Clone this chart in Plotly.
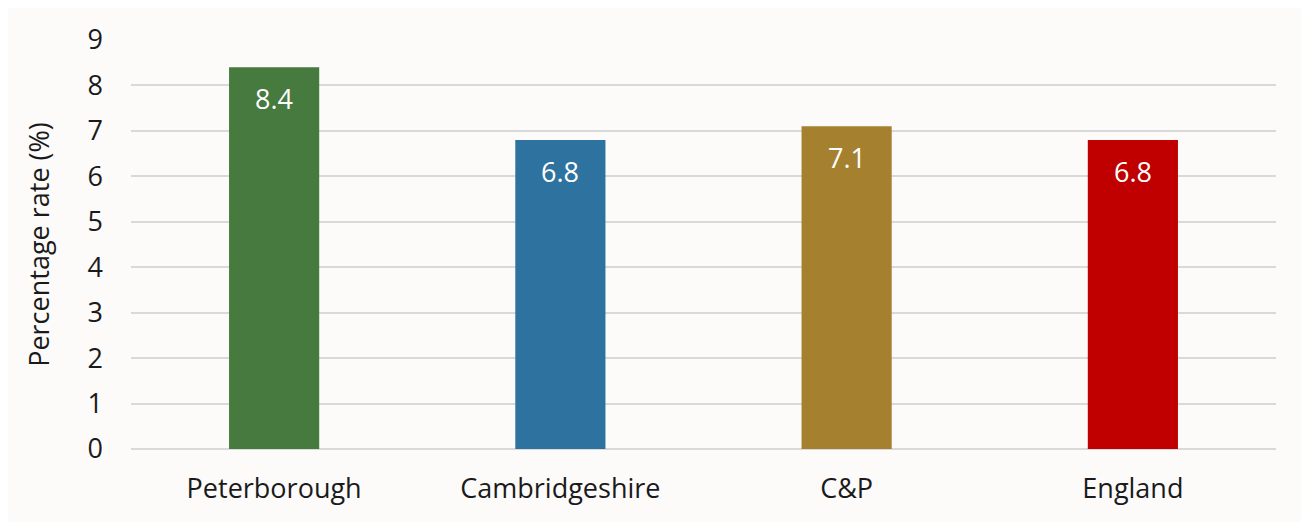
import plotly.graph_objects as go

areas = ["Peterborough", "Cambridgeshire", "C&P", "England"]
rates = [8.4, 6.8, 7.1, 6.8]
bar_colours = ["#467a3f", "#2e73a0", "#a5812f", "#c00000"]
y_ticks = list(range(0, 10))

FONT = "Open Sans, sans-serif"

fig = go.Figure(
    go.Bar(
        x=areas,
        y=rates,
        marker=dict(color=bar_colours, line=dict(width=0)),
        hoverinfo="x+y",
    )
)

# value labels sit a little below the top of each bar
for area, val in zip(areas, rates):
    fig.add_annotation(
        x=area, y=val, text=f"{val:.1f}",
        showarrow=False, yanchor="top", yshift=-11,
        font=dict(color="white", size=27, family=FONT),
    )

fig.update_layout(
    width=1301,
    height=514,
    margin=dict(l=123, r=33, t=29, b=73),
    paper_bgcolor="#fcfbfa",
    plot_bgcolor="#fcfbfa",
    bargap=0.685,
    showlegend=False,
    font=dict(family=FONT, color="#1a1a1a", size=27),
    yaxis=dict(
        range=[0, 9],
        tickvals=y_ticks,
        showgrid=True,
        gridcolor="#d9d9d9",
        gridwidth=1.5,
        zeroline=True,
        zerolinecolor="#d9d9d9",
        zerolinewidth=1.5,
        ticks="",
        ticklabelstandoff=27,
        title=dict(text="Percentage rate (%)", font=dict(size=27), standoff=30),
    ),
    xaxis=dict(showgrid=False, ticks="", ticklabelstandoff=21),
)

fig.write_html("out.html")
